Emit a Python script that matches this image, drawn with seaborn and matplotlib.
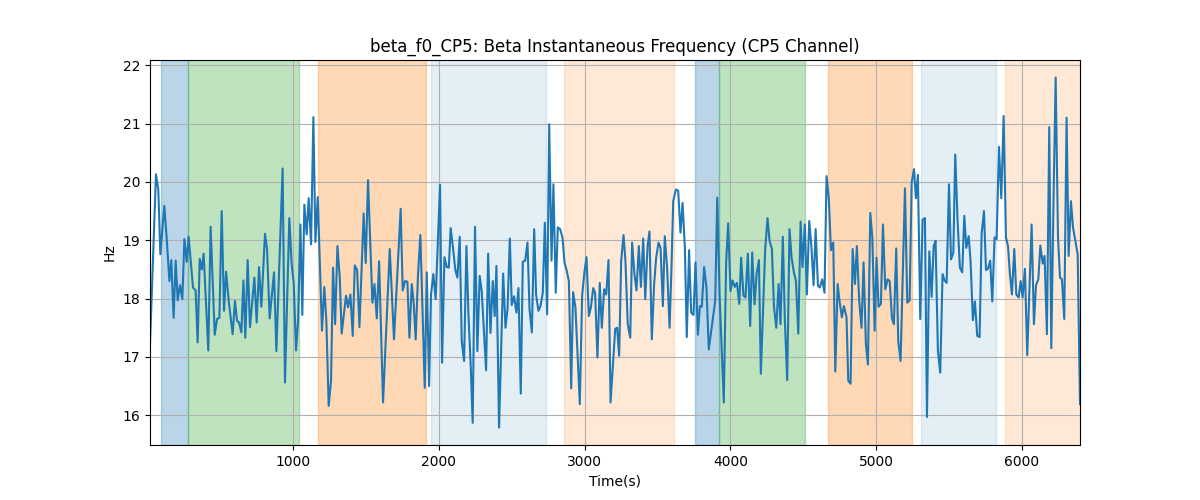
import matplotlib
matplotlib.use("Agg")
import matplotlib.pyplot as plt
import seaborn as sns
import pandas as pd

# Beta instantaneous frequency samples
time_s = [
    18, 59, 75, 89, 116, 132, 151, 164, 180, 194, 208, 224, 240, 254, 270, 283, 313, 331, 345, 359,
    373, 386, 418, 434, 462, 478, 494, 510, 526, 540, 558, 585, 601, 615, 629, 645, 659, 672, 688, 704,
    734, 750, 766, 782, 807,
    821, 839, 869, 885, 928, 944, 974, 990, 1004, 1020, 1034, 1050, 1063, 1077, 1093, 1107, 1123, 1139, 1153, 1169,
    1198, 1214, 1228, 1244, 1260, 1274, 1288, 1304, 1320, 1333, 1363, 1377, 1393, 1409, 1423, 1439, 1455, 1484, 1498, 1514,
    1544, 1558, 1574, 1590,
    1617, 1663, 1692, 1738, 1752, 1768, 1784, 1798, 1814, 1827, 1841, 1857, 1873, 1903, 1917, 1933, 1946, 1962, 1978, 2008,
    2022, 2038, 2054, 2068, 2081, 2097, 2113, 2127, 2143, 2157, 2173, 2189, 2203, 2219, 2232, 2248, 2264, 2280, 2294, 2324,
    2338, 2354, 2370, 2383,
    2395, 2413, 2441, 2457, 2471, 2487, 2500, 2516, 2532, 2546, 2562, 2576, 2592, 2608, 2622, 2638, 2654, 2667, 2683, 2697,
    2713, 2727, 2743, 2757, 2773, 2786, 2802, 2816, 2832, 2848, 2862, 2878, 2892, 2908, 2921, 2937, 2967, 2983, 2997, 3013,
    3029, 3043, 3059, 3072, 3088, 3104, 3118, 3134, 3148, 3164, 3178,
    3210, 3223, 3237, 3251, 3267, 3280, 3296, 3313, 3326, 3342, 3356, 3372, 3386, 3402, 3416, 3432, 3445, 3461, 3477, 3491,
    3507, 3521, 3537, 3550, 3566, 3583, 3596, 3608, 3626, 3642, 3658, 3672, 3688, 3701, 3717, 3731, 3747, 3761, 3777, 3791,
    3804, 3820, 3836, 3852, 3896, 3910, 3926, 3955, 3971, 3985,
    4001, 4015, 4031, 4045, 4061, 4074, 4090, 4104, 4120, 4136, 4150, 4166, 4180, 4196, 4209, 4239, 4255, 4269, 4285, 4299,
    4315, 4331, 4344, 4360, 4374, 4390, 4406, 4420, 4436, 4450, 4466, 4482, 4495, 4511, 4525, 4541, 4555, 4571, 4585, 4601,
    4614, 4630, 4646, 4660, 4676, 4690, 4706, 4720, 4736, 4749, 4765, 4779,
    4797, 4809, 4825, 4839, 4855, 4868, 4884, 4900, 4914, 4930, 4944, 4960, 4974, 4990, 5003, 5017, 5033, 5047, 5063, 5079,
    5093, 5109, 5122, 5138, 5152, 5168, 5184, 5198, 5214, 5230, 5244, 5260, 5273, 5287, 5303, 5319, 5335, 5349, 5365, 5381,
    5395, 5408, 5424, 5440, 5456, 5470, 5484, 5500, 5514, 5530, 5543, 5559, 5575, 5591,
    5605, 5619, 5635, 5648, 5664, 5678, 5694, 5710, 5724, 5740, 5754, 5767, 5783, 5797, 5813, 5827, 5843, 5859, 5875, 5891,
    5905, 5918, 5932, 5948, 5962, 5978, 5992, 6005, 6021, 6037, 6051, 6067, 6083, 6097, 6113, 6127, 6143, 6156, 6172, 6188,
    6202, 6218, 6232, 6248, 6262, 6275, 6291, 6307, 6321, 6337, 6351, 6367, 6383, 6399,
]

freq_hz = [
    17.22, 20.13, 19.87, 18.76, 19.59, 19.05, 18.30, 18.66, 17.67, 18.65, 17.97, 18.23, 17.99, 19.02, 18.63, 19.06, 18.19, 18.14, 17.25, 18.68,
    18.50, 18.77, 17.11, 19.23, 17.38, 17.65, 17.67, 19.50, 17.79, 18.46, 17.96, 17.39, 17.96, 17.62, 17.59, 17.42, 18.31, 17.33, 18.66, 17.51,
    18.36, 17.59, 18.54, 17.86, 19.11,
    18.85, 17.66, 18.45, 17.10, 20.23, 16.56, 19.38, 18.59, 18.27, 17.11, 17.62, 19.27, 17.72, 19.61, 19.10, 19.72, 18.93, 21.11, 18.97, 19.74,
    17.45, 18.20, 17.62, 16.16, 16.59, 18.53, 17.56, 18.90, 18.36, 17.40, 18.05, 17.85, 18.07, 17.36, 18.57, 18.49, 17.51, 19.46, 18.61, 20.03,
    17.93, 18.25, 17.66, 18.64,
    16.22, 18.85, 17.30, 19.54, 18.14, 18.30, 18.29, 17.33, 18.25, 17.93, 17.30, 18.42, 19.09, 16.47, 18.45, 16.50, 18.07, 18.42, 17.99, 19.95,
    16.90, 18.71, 18.54, 18.53, 19.21, 18.87, 18.49, 18.36, 19.06, 17.27, 16.93, 18.90, 17.73, 16.82, 15.87, 19.23, 17.10, 18.39, 18.13, 16.77,
    18.77, 17.41, 18.30, 17.70,
    18.56, 15.79, 18.43, 17.50, 17.82, 19.03, 17.89, 18.04, 17.76, 18.18, 16.37, 18.63, 18.65, 18.96, 17.82, 17.42, 19.19, 18.07, 17.79, 17.87,
    18.10, 19.30, 17.73, 20.99, 18.65, 19.96, 18.10, 19.22, 19.19, 19.05, 18.62, 18.47, 18.30, 16.46, 18.11, 17.85, 16.19, 18.05, 18.42, 18.71,
    17.70, 17.85, 18.18, 18.10, 16.99, 18.27, 17.50, 18.16, 18.07, 18.66, 16.22,
    17.48, 17.50, 17.02, 18.65, 19.09, 18.65, 17.56, 17.33, 18.96, 18.42, 18.14, 18.90, 18.20, 19.03, 17.99, 18.90, 19.15, 17.30, 18.25, 18.70,
    18.96, 18.87, 17.87, 19.07, 18.53, 17.50, 18.53, 19.67, 19.87, 19.85, 19.13, 19.64, 18.87, 17.34, 18.83, 17.76, 17.72, 18.62, 17.38, 17.87,
    17.86, 18.54, 18.19, 17.13, 17.96, 19.73, 18.07, 16.22, 18.62, 19.29,
    18.13, 18.31, 18.20, 18.27, 17.91, 18.70, 18.05, 18.02, 18.77, 17.53, 18.79, 17.90, 18.42, 18.66, 16.71, 18.85, 19.38, 18.99, 18.85, 17.87,
    17.50, 18.25, 17.56, 19.06, 17.62, 16.60, 19.19, 18.70, 18.45, 18.30, 17.40, 19.32, 18.54, 19.27, 18.07, 19.33, 18.93, 18.23, 19.19, 18.22,
    18.19, 18.33, 18.10, 20.10, 19.70, 18.83, 18.96, 16.75, 18.25, 17.96, 17.68, 17.87,
    17.68, 16.59, 16.54, 18.85, 18.25, 18.90, 17.97, 17.50, 18.62, 17.22, 16.87, 19.47, 19.05, 17.45, 18.70, 17.86, 17.91, 19.27, 18.16, 18.33,
    18.30, 17.66, 17.56, 18.86, 17.27, 16.93, 18.53, 19.89, 17.93, 17.97, 19.99, 20.22, 19.72, 20.12, 17.65, 19.35, 19.38, 15.97, 18.81, 18.03,
    18.90, 18.99, 17.11, 16.73, 18.42, 18.31, 18.27, 19.96, 18.67, 18.79, 20.47, 19.33, 18.53, 18.45,
    19.42, 18.87, 19.07, 18.65, 17.63, 17.95, 17.36, 17.34, 19.11, 19.50, 18.49, 18.51, 18.65, 17.95, 19.05, 19.02, 20.60, 19.72, 21.13, 19.05,
    18.90, 18.42, 18.07, 18.85, 18.07, 18.02, 18.30, 18.02, 18.51, 17.03, 18.07, 19.27, 17.56, 18.23, 18.33, 18.91, 18.60, 18.73, 17.39, 20.94,
    17.15, 19.79, 21.79, 19.05, 18.36, 18.33, 17.65, 21.10, 18.73, 19.67, 19.22, 18.99, 18.76, 16.19,
]

# shaded segments (start, end in seconds) and their kind
span_start = [91, 281, 1169, 1944, 2857, 3757, 3923, 4669, 5308, 5884]
span_end = [281, 1040, 1915, 2732, 3612, 3923, 4509, 5246, 5820, 6420]
span_kind = ["blue", "green", "orange", "lightblue", "lightorange",
             "blue", "green", "orange", "lightblue", "lightorange"]

span_style = {
    "blue": ("tab:blue", 0.3),
    "green": ("tab:green", 0.3),
    "orange": ("tab:orange", 0.3),
    "lightblue": ("tab:blue", 0.12),
    "lightorange": ("tab:orange", 0.17),
}

df = pd.DataFrame({"Time(s)": time_s, "Hz": freq_hz})

fig, ax = plt.subplots(figsize=(12, 5))

for s, e, k in zip(span_start, span_end, span_kind):
    color, alpha = span_style[k]
    ax.axvspan(s, e, color=color, alpha=alpha)

sns.lineplot(data=df, x="Time(s)", y="Hz", ax=ax, color="tab:blue", linewidth=1.5)

ax.set_xlim(time_s[0], time_s[-1])
ax.grid(True)
ax.set_title("beta_f0_CP5: Beta Instantaneous Frequency (CP5 Channel)")
ax.set_xlabel("Time(s)")
ax.set_ylabel("Hz")

plt.savefig("out.png", dpi=100)
plt.close()
